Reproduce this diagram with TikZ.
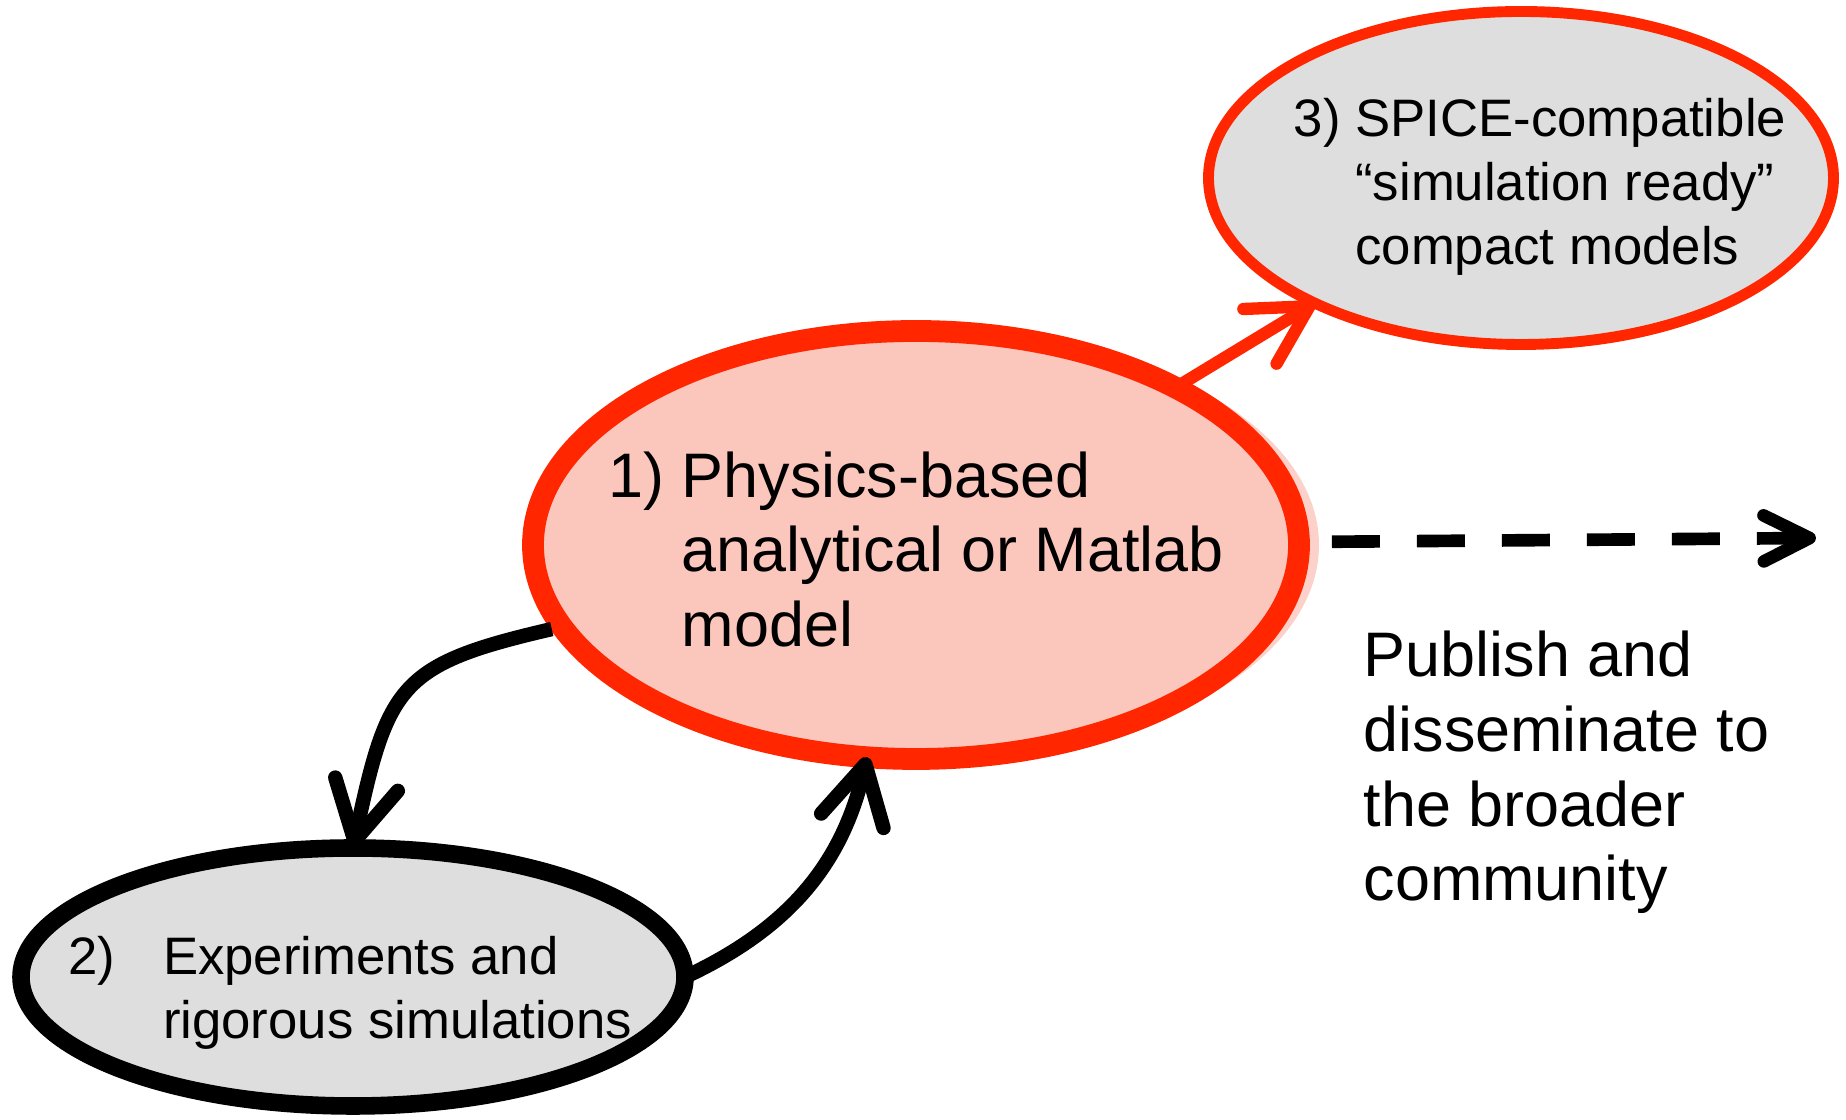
\documentclass[tikz,border=0pt]{standalone}
\usepackage{fontspec}
\setmainfont{Liberation Sans}
\usetikzlibrary{arrows.meta,positioning,shapes.geometric,calc,shadows}
\definecolor{ptred}{RGB}{255,38,0}
\definecolor{ptpink}{RGB}{251,198,188}
\definecolor{ptgray}{RGB}{222,222,222}

\begin{document}
\begin{tikzpicture}[
  blob/.style={draw, ellipse, inner sep=0pt, outer sep=0pt},
  lbl/.style={inner sep=0pt, align=left, font=\fontsize{17.9}{21.3}\selectfont},
  lbls/.style={inner sep=0pt, align=left, font=\fontsize{15}{18.2}\selectfont},
  flow/.style={-{Straight Barb[length=5.8mm, width=6.4mm, round]}, line width=4.1pt},
  pub/.style={-{Straight Barb[length=4.6mm, width=4.6mm, round]}, line width=3.6pt, dash pattern=on 4.8mm off 3.7mm}]
\useasboundingbox (0,0) rectangle (18.46,11.20);

\node[blob, draw=ptred, fill=ptpink, line width=6.2pt, minimum width=7.66cm, minimum height=4.28cm,
  drop shadow={shadow xshift=0.2cm, shadow yshift=0cm, fill=ptpink, opacity=0.8}] (c1) at (9.16,5.75) {};
\node[lbl] at ($(c1.center)+(0,-0.12)$) {\begin{tabular}{@{}l@{\ }l@{}}1) & Physics-based\\ & analytical or Matlab\\ & model\end{tabular}};

\node[blob, draw=ptred, fill=ptgray, line width=3.1pt, minimum width=6.25cm, minimum height=3.33cm] (c3) at (15.21,9.42) {};
\node[lbls] at ($(c3.center)+(0.19,-0.10)$) {\begin{tabular}{@{}l@{\ }l@{}}3) & SPICE-compatible\\ & “simulation ready”\\ & compact models\end{tabular}};

\node[blob, draw=black, fill=ptgray, line width=5pt, minimum width=6.64cm, minimum height=2.58cm,
  drop shadow={shadow xshift=0.03cm, shadow yshift=-0.05cm, opacity=0.2}] (c2) at (3.53,1.43) {};
\node[lbls] at ($(c2.center)+(-0.03,-0.17)$) {\begin{tabular}{@{}l@{\hspace{4.8mm}}l@{}}2) & Experiments and\\ & rigorous simulations\end{tabular}};

\node[lbl, anchor=north west] (pubtxt) at (13.63,4.90) {Publish and\\disseminate to\\the broader\\community};
\coordinate (pubend) at (18.16,5.82);

% connectors
\draw[flow, draw=ptred, line width=3.5pt] (c1) -- (c3);
\draw[pub, shorten <=3.3mm] (c1) -- (pubend);
\draw[flow, shorten <=3pt] (c1.193) to[out=193, in=78, looseness=1.4] (c2.north);
\draw[flow] (c2.east) to[out=25, in=257] (c1.257);
\end{tikzpicture}
\end{document}
